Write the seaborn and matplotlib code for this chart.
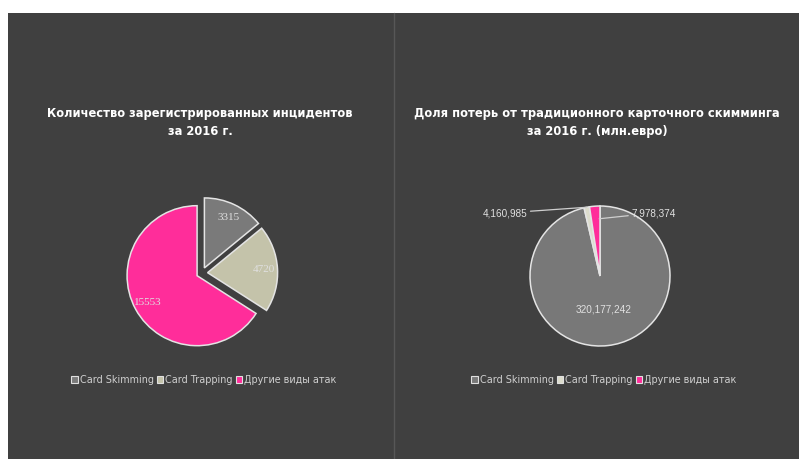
import matplotlib
matplotlib.use("Agg")
import matplotlib.pyplot as plt
import seaborn as sns
import numpy as np
from matplotlib.patches import Rectangle, Patch
from matplotlib.lines import Line2D

categories = ["Card Skimming", "Card Trapping", "Другие виды атак"]
incidents_2016 = [3315, 4720, 15553]
losses_2016 = [320177242, 4160985, 7978374]
left_labels = ["3315", "4720", "15553"]
right_labels = ["320,177,242", "4,160,985", "7,978,374"]
title_left = "Количество зарегистрированных инцидентов\nза 2016 г."
title_right = "Доля потерь от традиционного карточного скимминга\nза 2016 г. (млн.евро)"

left_colors = ["#7a7a7a", "#c4c3aa", "#ff2d9a"]
right_colors = ["#787878", "#dcdccc", "#ff2d9a"]

sns.set_theme(style="dark")
plt.rcParams['font.family'] = ['DejaVu Sans']

W, H = 799, 459
fig = plt.figure(figsize=(W / 100, H / 100), dpi=100)
fig.patch.set_facecolor('white')
bg = '#404040'
fig.add_artist(Rectangle((8 / W, 0), 1 - 8 / W, 1 - 13 / H, transform=fig.transFigure,
                         facecolor=bg, edgecolor='none', zorder=0))
fig.add_artist(Line2D([394 / W, 394 / W], [0, 1 - 13 / H], transform=fig.transFigure,
                      color='#575757', lw=1, zorder=1))


def pie_axes(cx, cy, r_px, lim=1.6):
    size = 2 * lim * r_px
    ax = fig.add_axes([(cx - size / 2) / W, 1 - (cy + size / 2) / H, size / W, size / H])
    ax.set_facecolor('none')
    return ax, lim


def set_lims(ax, lim):
    ax.set_xlim(-lim, lim)
    ax.set_ylim(-lim, lim)
    ax.set_aspect('equal')
    ax.axis('off')


# Left pie
axL, limL = pie_axes(202, 273, 70)
it = iter(left_labels)
wedges, texts, autotexts = axL.pie(
    incidents_2016, colors=left_colors, startangle=90, counterclock=False,
    explode=[0.08, 0.08, 0.08], autopct=lambda p: next(it), pctdistance=0.8,
    wedgeprops=dict(edgecolor='#e4e4e4', linewidth=1.1),
    textprops=dict(color='#e0e0e0', fontsize=8, family='Liberation Serif'))
set_lims(axL, limL)

# Right pie
axR, limR = pie_axes(600, 276, 70)
wedgesR, _ = axR.pie(
    losses_2016, colors=right_colors, startangle=90, counterclock=False,
    wedgeprops=dict(edgecolor='#e4e4e4', linewidth=1.1))
set_lims(axR, limR)


def mid(w):
    return np.deg2rad((w.theta1 + w.theta2) / 2)


lab_kw = dict(color='#e0e0e0', fontsize=7.2, family='Liberation Sans')
a0 = mid(wedgesR[0])
axR.text(0.48 * np.cos(a0), 0.48 * np.sin(a0), right_labels[0], ha='center', va='center', **lab_kw)
a1 = mid(wedgesR[1])
axR.annotate(right_labels[1], xy=(1.0 * np.cos(a1), 1.0 * np.sin(a1)), xytext=(-1.04, 0.9),
             ha='right', va='center',
             arrowprops=dict(arrowstyle='-', color='#cfcfcf', lw=0.9, shrinkA=0, shrinkB=0),
             **lab_kw)
a2 = mid(wedgesR[2])
axR.annotate(right_labels[2], xy=(0.82 * np.cos(a2) + 0.05, 0.82 * np.sin(a2)), xytext=(0.45, 0.9),
             ha='left', va='center',
             arrowprops=dict(arrowstyle='-', color='#cfcfcf', lw=0.9, shrinkA=0, shrinkB=0),
             **lab_kw)

# Titles
fig.text(200 / W, 1 - 122.5 / H, title_left, ha='center', va='center', color='white',
         fontsize=8.3, fontweight='bold', linespacing=1.55)
fig.text(597 / W, 1 - 122.5 / H, title_right, ha='center', va='center', color='white',
         fontsize=8.3, fontweight='bold', linespacing=1.55)

# Legends
for cx, cols in [(204, left_colors), (604, right_colors)]:
    handles = [Patch(facecolor=c, edgecolor='#e0e0e0', linewidth=0.8) for c in cols]
    fig.legend(handles, categories, loc='center', bbox_to_anchor=(cx / W, 1 - 380 / H),
               ncol=3, frameon=False, fontsize=6.9, labelcolor='#d0d0d0',
               handlelength=0.7, handleheight=0.7, handletextpad=0.2,
               columnspacing=0.3, borderpad=0, borderaxespad=0)

fig.savefig("out.png", dpi=100, facecolor=fig.get_facecolor())
